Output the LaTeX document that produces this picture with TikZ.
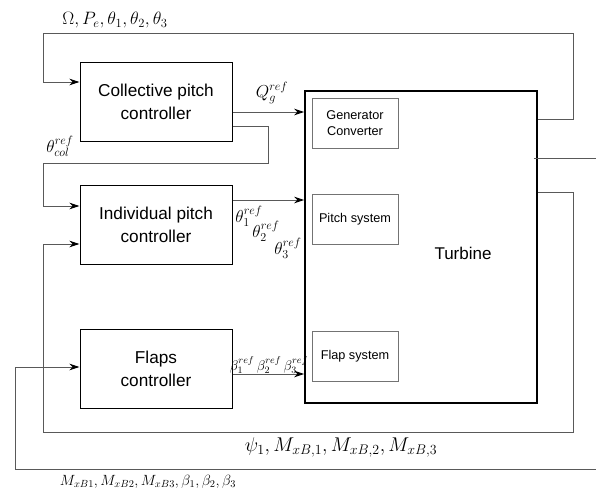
\RequirePackage{fix-cm}
\documentclass[tikz,border=0pt]{standalone}
\usepackage{fontspec}
\setsansfont{Liberation Sans}
\usetikzlibrary{arrows.meta}
\begin{document}
\begin{tikzpicture}[x=1pt,y=-1pt,
  ctrl/.style={draw=black,line width=1pt,minimum width=152pt,minimum height=79pt,
    align=center,font=\sffamily\fontsize{17.2}{23}\selectfont,inner sep=0pt},
  plant/.style={draw=black,line width=1.6pt,inner sep=0pt},
  sub/.style={draw=black!55,line width=0.8pt,minimum width=86pt,minimum height=50pt,
    align=center,font=\sffamily\fontsize{12.7}{16}\selectfont,inner sep=0pt},
  wire/.style={draw=black!65,line width=0.9pt},
  feed/.style={wire,-{Stealth[length=10pt,width=6.5pt,black]}},
  lbl/.style={inner sep=0pt}]
\useasboundingbox (0,0) rectangle (596,495);

% controllers
\node[ctrl] (coll)  at (156,101.5) {Collective pitch\\controller};
\node[ctrl] (indiv) at (156,225)   {Individual pitch\\controller};
\node[ctrl] (flaps) at (156,368.5) {Flaps\\controller};

% turbine and its subsystems
\node[plant,minimum width=232pt,minimum height=312pt] (turb) at (421,247) {};
\node[font=\sffamily\fontsize{17}{20}\selectfont,inner sep=0pt] (turbtxt) at (463,253) {Turbine};
\node[sub] (gen)   at (355,123)   {Generator\\Converter};
\node[sub] (pitch) at (355,219.5) {Pitch system};
\node[sub] (flap)  at (355,356)   {Flap system};

% free ends of the wires on the right
\coordinate (outR) at (596,158);
\coordinate (bigR) at (596,469);

% forward references
\draw[feed] (coll.east |- 0,112) -- (turb.west |- 0,112);
\draw[feed] (indiv.east |- 0,200) -- (turb.west |- 0,200);
\draw[feed] (flaps.east |- 0,374) -- (turb.west |- 0,374);

% collective to individual
\draw[feed] (coll.east |- 0,126) -- (268,126) -- (268,163) -- (43,163) -- (43,206)
  -- (indiv.west |- 0,206);

% measurements back to the collective controller
\draw[feed] (turb.east |- 0,119) -- (573,119) -- (573,33) -- (43,33) -- (43,82)
  -- (coll.west |- 0,82);

% azimuth and blade moments to the individual controller
\draw[feed] (turb.east |- 0,192) -- (573,192) -- (573,432) -- (43,432) -- (43,244)
  -- (indiv.west |- 0,244);

% blade moments and flap angles to the flaps controller
\draw[feed] (bigR) -- (15,469) -- (15,367) -- (flaps.west |- 0,367);

% turbine output
\draw[wire] ([xshift=-4pt]turb.east |- 0,158) -- (outR);

% signal labels
\node[lbl,font=\fontsize{17.9}{20}\selectfont] (lOm)  at (115,20)  {$\Omega, P_e, \theta_1, \theta_2, \theta_3$};
\node[lbl,font=\fontsize{17.3}{20}\selectfont] (lQ)   at (272,93)  {$Q_g^{ref}$};
\node[lbl,font=\fontsize{17.3}{20}\selectfont] (lcol) at (60,146)  {$\theta_{col}^{ref}$};
\node[lbl,font=\fontsize{17.3}{20}\selectfont] (lt1)  at (249,216) {$\theta_1^{ref}$};
\node[lbl,font=\fontsize{17.3}{20}\selectfont] (lt2)  at (266,231) {$\theta_2^{ref}$};
\node[lbl,font=\fontsize{17.3}{20}\selectfont] (lt3)  at (288,248) {$\theta_3^{ref}$};
\node[lbl,font=\fontsize{14}{16}\selectfont] (lb)   at (269,365) {$\beta_1^{ref}\,\beta_2^{ref}\,\beta_3^{ref}$};
\node[lbl,font=\fontsize{19.9}{22}\selectfont] (lpsi) at (341,447) {$\psi_1, M_{xB,1}, M_{xB,2}, M_{xB,3}$};
\node[lbl,font=\fontsize{14.8}{18}\selectfont] (lM) at (148,482)
  {$M_{xB1},M_{xB2},M_{xB3},\beta_1,\beta_2,\beta_3$};
\end{tikzpicture}
\end{document}
